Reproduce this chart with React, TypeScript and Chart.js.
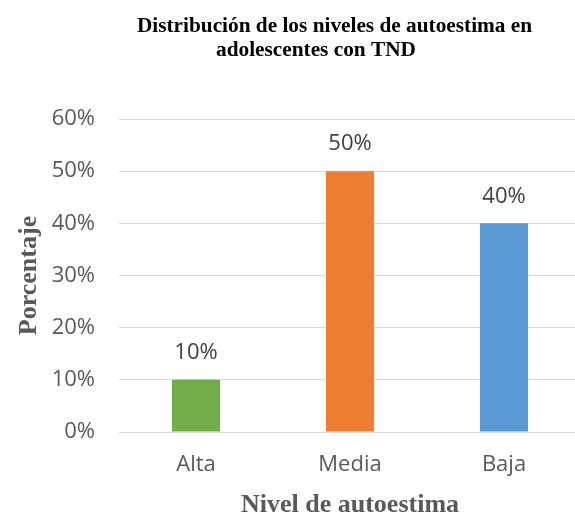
import React, { useEffect, useRef } from "react";
import { Chart, registerables } from "chart.js";

Chart.register(...registerables);

const categories = ["Alta", "Media", "Baja"];
const values = [10, 50, 40];
const barColors = ["#70AD47", "#ED7D31", "#5B9BD5"];
const titleLines = ["Distribución de los niveles de autoestima en", "adolescentes con TND"];
const yTitle = "Porcentaje";
const xTitle = "Nivel de autoestima";
const yMax = 60;
const yStep = 10;

const TICK_FONT = "'Open Sans', sans-serif";
const SERIF = "'Liberation Serif', 'Times New Roman', serif";

const labelsPlugin = {
  id: "valueLabels",
  afterDatasetsDraw(chart: any) {
    const ctx = chart.ctx;
    const meta = chart.getDatasetMeta(0);
    ctx.save();
    ctx.font = `22px ${TICK_FONT}`;
    ctx.fillStyle = "#404040";
    ctx.textAlign = "center";
    ctx.textBaseline = "middle";
    meta.data.forEach((bar: any, i: number) => {
      ctx.fillText(values[i] + "%", bar.x, bar.y - 27);
    });
    ctx.restore();
  },
};

const titleCenters = [334.5, 316];
const titleBaselines = [32, 56];

const titlePlugin = {
  id: "manualTitle",
  afterDraw(chart: any) {
    const ctx = chart.ctx;
    ctx.save();
    ctx.font = `bold 21.3px ${SERIF}`;
    ctx.fillStyle = "#000000";
    ctx.textAlign = "center";
    ctx.textBaseline = "alphabetic";
    titleLines.forEach((line, i) => {
      ctx.fillText(line, titleCenters[i], titleBaselines[i]);
    });
    ctx.restore();
  },
};

export default function App() {
  const ref = useRef<HTMLCanvasElement>(null);

  useEffect(() => {
    if (!ref.current) return;
    const chart = new Chart(ref.current, {
      type: "bar",
      data: {
        labels: categories,
        datasets: [
          {
            data: values,
            backgroundColor: barColors,
            barPercentage: 0.312,
            categoryPercentage: 1,
          },
        ],
      },
      options: {
        animation: false,
        responsive: false,
        devicePixelRatio: 1,
        layout: { padding: { top: 119, right: 19, left: 0, bottom: 0 } },
        plugins: {
          legend: { display: false },
          tooltip: { enabled: false },
          title: { display: false },
        },
        scales: {
          x: {
            grid: { display: false, drawTicks: false },
            border: { display: false },
            ticks: {
              color: "#595959",
              font: { family: TICK_FONT, size: 22 },
              padding: 20,
            },
            title: {
              display: true,
              text: xTitle,
              color: "#595959",
              font: { family: SERIF, size: 26, weight: "bold", lineHeight: 0.85 },
              padding: { top: 0, bottom: 0 },
            },
            afterFit(scale: any) {
              scale.height = 84;
            },
          },
          y: {
            min: 0,
            max: yMax,
            grid: { color: "#D9D9D9", lineWidth: 1, drawTicks: false },
            border: { display: false },
            ticks: {
              stepSize: yStep,
              color: "#595959",
              font: { family: TICK_FONT, size: 22 },
              padding: 24,
              callback: (v: any) => v + "%",
            },
            title: {
              display: true,
              text: yTitle,
              color: "#595959",
              font: { family: SERIF, size: 26, weight: "bold", lineHeight: 1.2 },
              padding: { top: 14, bottom: 0 },
            },
            afterFit(scale: any) {
              scale.width = 119;
            },
          },
        },
      },
      plugins: [labelsPlugin, titlePlugin],
    });
    return () => chart.destroy();
  }, []);

  return (
    <div
      style={{
        position: "fixed",
        left: 0,
        top: 0,
        width: 575,
        height: 516,
        overflow: "hidden",
        background: "#ffffff",
      }}
    >
      <canvas ref={ref} width={600} height={516} style={{ width: 600, height: 516, display: "block" }} />
    </div>
  );
}
